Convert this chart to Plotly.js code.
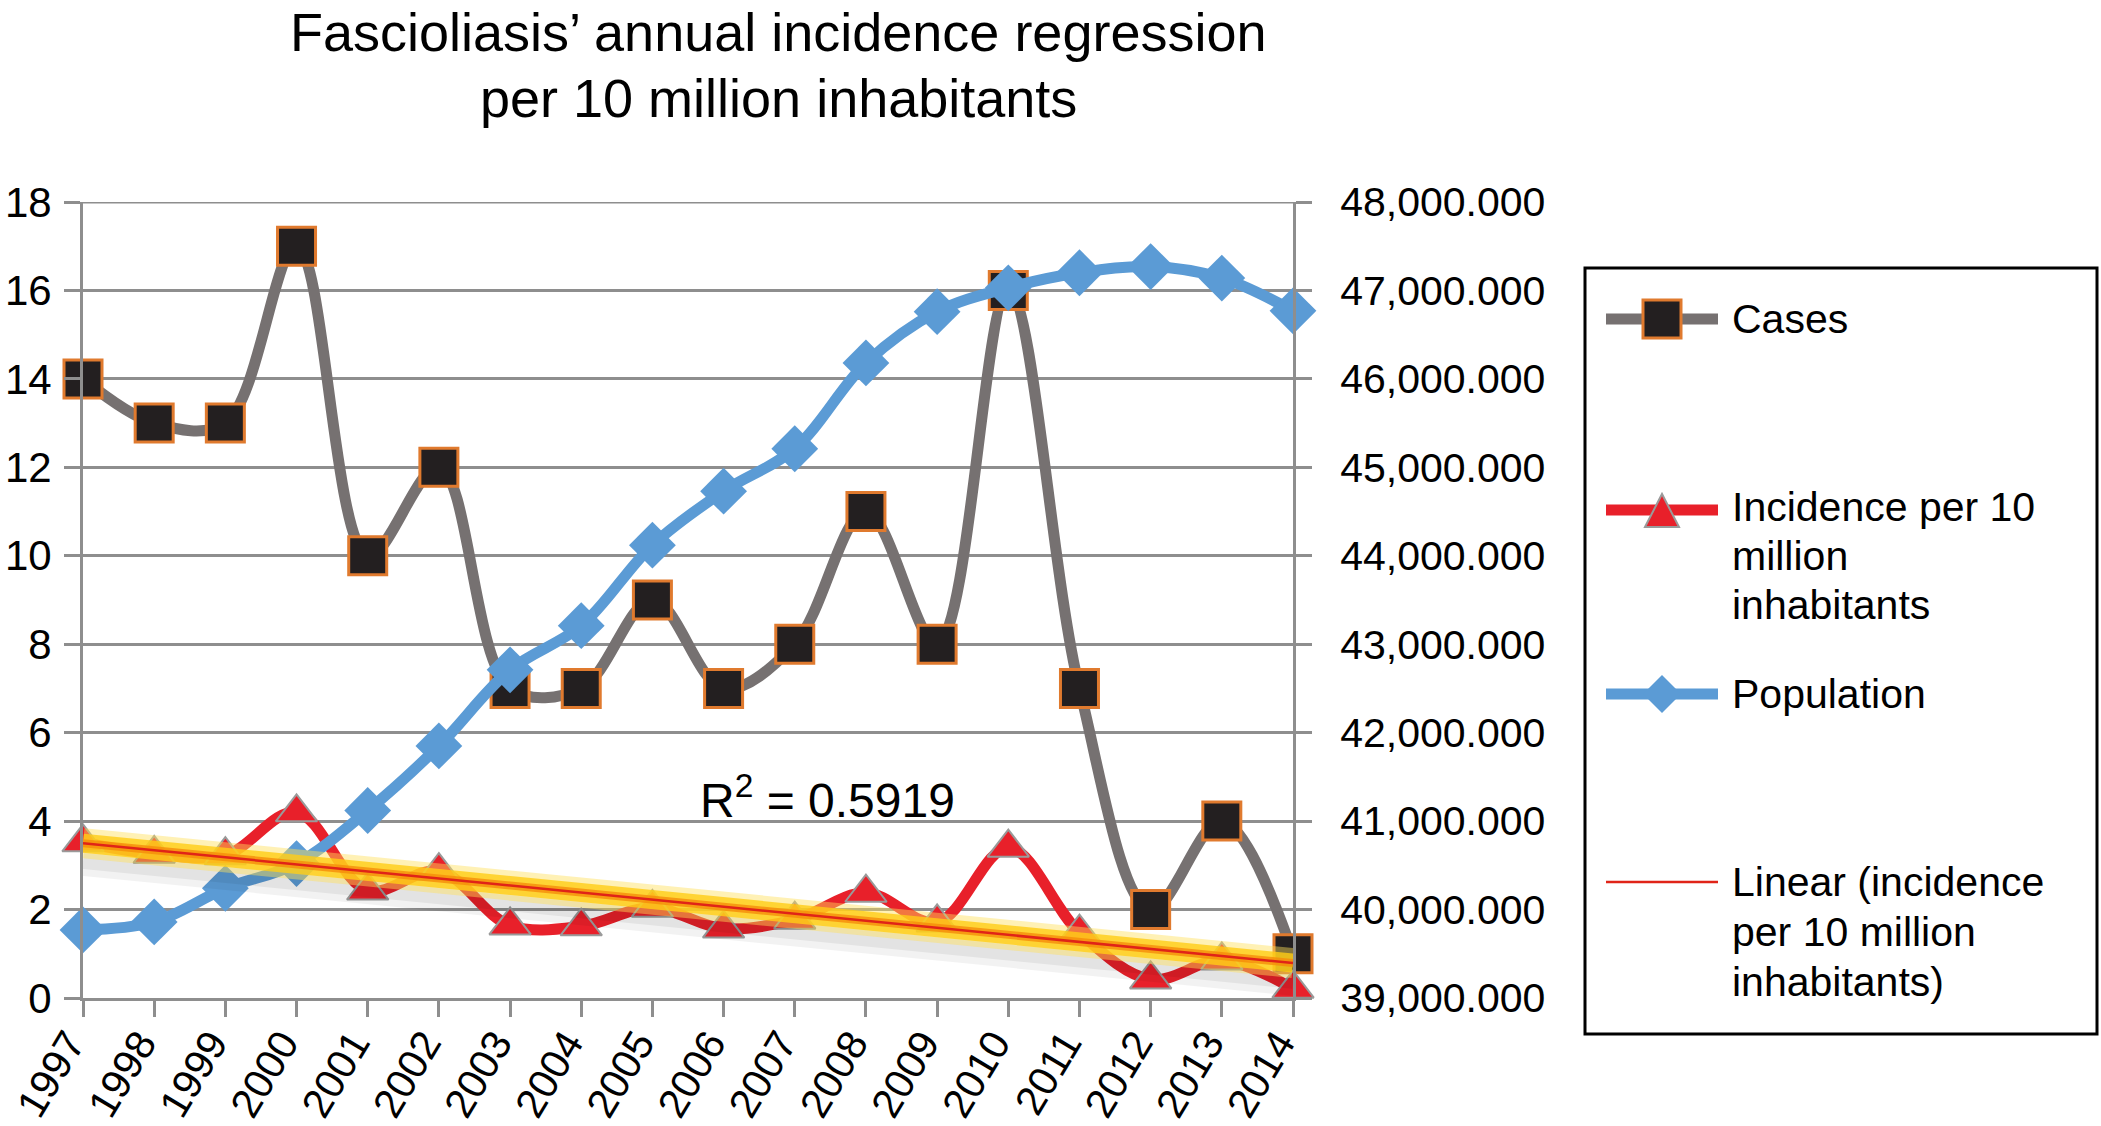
<!DOCTYPE html>
<html>
<head>
<meta charset="utf-8">
<script src="https://cdn.plot.ly/plotly-3.0.1.min.js"></script>
<style>html,body{margin:0;padding:0;background:#fff;}#chart{width:2101px;height:1126px;}</style>
</head>
<body>
<div id="chart"></div>
<script>
// ---- data ----
const years = ['1997','1998','1999','2000','2001','2002','2003','2004','2005','2006','2007','2008','2009','2010','2011','2012','2013','2014'];
const cases = [14, 13, 13, 17, 10, 12, 7, 7, 9, 7, 8, 11, 8, 16, 7, 2, 4, 1];
const incidence = [3.52, 3.26, 3.23, 4.20, 2.43, 2.87, 1.64, 1.62, 2.04, 1.57, 1.77, 2.38, 1.71, 3.40, 1.48, 0.42, 0.85, 0.21];
const population = [39.77e6, 39.86e6, 40.24e6, 40.52e6, 41.12e6, 41.85e6, 42.71e6, 43.21e6, 44.12e6, 44.73e6, 45.21e6, 46.18e6, 46.76e6, 47.03e6, 47.20e6, 47.27e6, 47.14e6, 46.77e6];
const trendYears = ['1997', '2014'];
const trendValues = [3.50, 0.79];
const titleLines = ['Fascioliasis’ annual incidence regression', 'per 10 million inhabitants'];
const rSquaredText = 'R<sup>2</sup> = 0.5919';
const leftTicks = [0, 2, 4, 6, 8, 10, 12, 14, 16, 18];
const rightTickVals = [39e6, 40e6, 41e6, 42e6, 43e6, 44e6, 45e6, 46e6, 47e6, 48e6];
const rightTickText = ['39,000.000','40,000.000','41,000.000','42,000.000','43,000.000','44,000.000','45,000.000','46,000.000','47,000.000','48,000.000'];
const legendLabels = {
  cases: ['Cases'],
  incidence: ['Incidence per 10', 'million', 'inhabitants'],
  population: ['Population'],
  linear: ['Linear (incidence', 'per 10 million', 'inhabitants)']
};

// ---- style ----
const FONT = 'Liberation Sans, Arial, Helvetica, sans-serif';
const NARROW = 'Liberation Sans Narrow, Arial Narrow, Liberation Sans, Arial, sans-serif';
const GRID = '#8e8e8e';
const GRAY = '#767171';
const RED = '#e8202a';
const BLUE = '#5b9bd5';
const ML = 83, MR = 808, MT = 202, MB = 128, W = 2101, H = 1126;
const PW = W - ML - MR, PH = H - MT - MB;
const px = x => (x - ML) / PW;
const py = y => (H - MB - y) / PH;

const traces = [
  {
    x: years, y: cases, name: 'Cases', type: 'scatter', mode: 'lines+markers',
    line: {color: GRAY, width: 11, shape: 'spline', smoothing: 1},
    marker: {symbol: 'square', size: 38, color: '#231f20', line: {color: '#e07a2e', width: 3}},
    cliponaxis: false
  },
  {
    x: years, y: incidence, name: 'Incidence per 10 million inhabitants', type: 'scatter', mode: 'lines+markers',
    line: {color: RED, width: 11, shape: 'spline', smoothing: 1},
    marker: {symbol: 'triangle-up', size: 36, color: RED, line: {color: '#9a9a9a', width: 2}},
    cliponaxis: false
  },
  {
    x: years, y: population, name: 'Population', type: 'scatter', mode: 'lines+markers', yaxis: 'y2',
    line: {color: BLUE, width: 11, shape: 'spline', smoothing: 1},
    marker: {symbol: 'diamond', size: 36, color: BLUE, line: {width: 0}},
    cliponaxis: false
  },
  // soft shadow under the trendline glow (drawn on an axis shifted a few px down)
  {
    x: trendYears, y: trendValues, type: 'scatter', mode: 'lines', yaxis: 'y3', hoverinfo: 'skip',
    line: {color: 'rgba(0,0,0,0.05)', width: 30}, cliponaxis: false
  },
  {
    x: trendYears, y: trendValues, type: 'scatter', mode: 'lines', yaxis: 'y3', hoverinfo: 'skip',
    line: {color: 'rgba(0,0,0,0.06)', width: 16}, cliponaxis: false
  },
  // glow of the trendline
  {
    x: trendYears, y: trendValues, type: 'scatter', mode: 'lines', yaxis: 'y4', hoverinfo: 'skip',
    line: {color: 'rgba(255,225,90,0.45)', width: 30}, cliponaxis: false
  },
  {
    x: trendYears, y: trendValues, type: 'scatter', mode: 'lines', yaxis: 'y4', hoverinfo: 'skip',
    line: {color: 'rgba(255,205,20,0.8)', width: 19}, cliponaxis: false
  },
  {
    x: trendYears, y: trendValues, type: 'scatter', mode: 'lines', yaxis: 'y4', hoverinfo: 'skip',
    line: {color: 'rgba(245,140,10,0.8)', width: 8}, cliponaxis: false
  },
  {
    x: trendYears, y: trendValues, name: 'Linear (incidence per 10 million inhabitants)', type: 'scatter', mode: 'lines', yaxis: 'y4',
    line: {color: '#e02418', width: 2.5}, cliponaxis: false
  }
];

// ---- custom legend (decoration) ----
const shapes = [];
const annotations = [];
// top gridline at 18
shapes.push({type: 'line', xref: 'paper', yref: 'y', x0: -16 / PW, x1: 1 + 16 / PW, y0: 18, y1: 18, line: {color: GRID, width: 3}, layer: 'below'});
shapes.push({type: 'rect', xref: 'paper', yref: 'paper', x0: px(1585), x1: px(2097), y0: py(268), y1: py(1034), line: {color: '#000', width: 3}});
function legLine(y, color, width) {
  shapes.push({type: 'line', xref: 'paper', yref: 'paper', x0: px(1606), x1: px(1718), y0: py(y), y1: py(y), line: {color: color, width: width}});
}
function legPath(pts, fill, lc, lw) {
  const d = pts.map((p, i) => (i ? 'L' : 'M') + px(p[0]) + ',' + py(p[1])).join(' ') + ' Z';
  shapes.push({type: 'path', xref: 'paper', yref: 'paper', path: d, fillcolor: fill, line: {color: lc, width: lw}});
}
function legText(lines, y0, step) {
  lines.forEach((t, i) => annotations.push({
    xref: 'paper', yref: 'paper', x: px(1731), y: py(y0 + i * step), text: t, showarrow: false,
    xanchor: 'left', yanchor: 'middle', borderpad: 0, font: {family: FONT, size: 41, color: '#000'}
  }));
}
const cx = 1662;
legLine(319, GRAY, 11);
legPath([[cx-19,300],[cx+19,300],[cx+19,338],[cx-19,338]], '#231f20', '#e07a2e', 3);
legText(legendLabels.cases, 319, 49);
legLine(510, RED, 11);
legPath([[cx-17,527],[cx,494],[cx+17,527]], RED, '#9a9a9a', 2);
legText(legendLabels.incidence, 507, 49);
legLine(694, BLUE, 11);
legPath([[cx-19,694],[cx,675],[cx+19,694],[cx,713]], BLUE, BLUE, 0);
legText(legendLabels.population, 694, 49);
legLine(882, '#e02418', 2.5);
legText(legendLabels.linear, 882, 50);

// chart title (two centred lines)
[32, 98].forEach((y, i) => annotations.push({
  xref: 'paper', yref: 'paper', x: px(779), y: py(y), text: titleLines[i], showarrow: false,
  xanchor: 'center', yanchor: 'middle', borderpad: 0, font: {family: FONT, size: 54, color: '#000'}
}));

annotations.push({
  xref: 'paper', yref: 'paper', x: px(827), y: py(797), text: rSquaredText, showarrow: false,
  xanchor: 'center', yanchor: 'middle', font: {family: FONT, size: 48, color: '#000'}
});

const layout = {
  width: W, height: H,
  margin: {l: ML, r: MR, t: MT, b: MB, pad: 0},
  paper_bgcolor: '#fff', plot_bgcolor: '#fff',
  showlegend: false,
  font: {family: FONT, color: '#000'},
  xaxis: {
    type: 'category', range: [0, years.length - 1], showgrid: false,
    showline: true, linecolor: GRID, linewidth: 3,
    ticks: 'outside', ticklen: 16, tickwidth: 3, tickcolor: GRID,
    tickangle: -59, ticklabelstandoff: -14, ticklabelshift: -14,
    tickfont: {family: FONT, size: 41, color: '#000'}, automargin: false
  },
  yaxis: {
    range: [0, 18], tickvals: leftTicks, showgrid: true, gridcolor: GRID, gridwidth: 3,
    zeroline: false, showline: true, linecolor: GRID, linewidth: 3,
    ticks: 'outside', ticklen: 16, tickwidth: 3, tickcolor: GRID, ticklabelstandoff: 4,
    tickfont: {family: NARROW, size: 42, color: '#000'}, automargin: false
  },
  yaxis2: {
    overlaying: 'y', side: 'right', range: [39e6, 48e6], tickvals: rightTickVals, ticktext: rightTickText,
    showgrid: false, zeroline: false, showline: true, linecolor: GRID, linewidth: 3,
    ticks: 'outside', ticklen: 16, tickwidth: 3, tickcolor: GRID, ticklabelstandoff: 20,
    tickfont: {family: FONT, size: 41, color: '#000'}, automargin: false
  },
  yaxis3: {overlaying: 'y', range: [0.4, 18.4], visible: false},
  yaxis4: {overlaying: 'y', range: [0, 18], visible: false},
  shapes: shapes,
  annotations: annotations
};

Plotly.newPlot('chart', traces, layout, {displayModeBar: false, staticPlot: true});
</script>
</body>
</html>
